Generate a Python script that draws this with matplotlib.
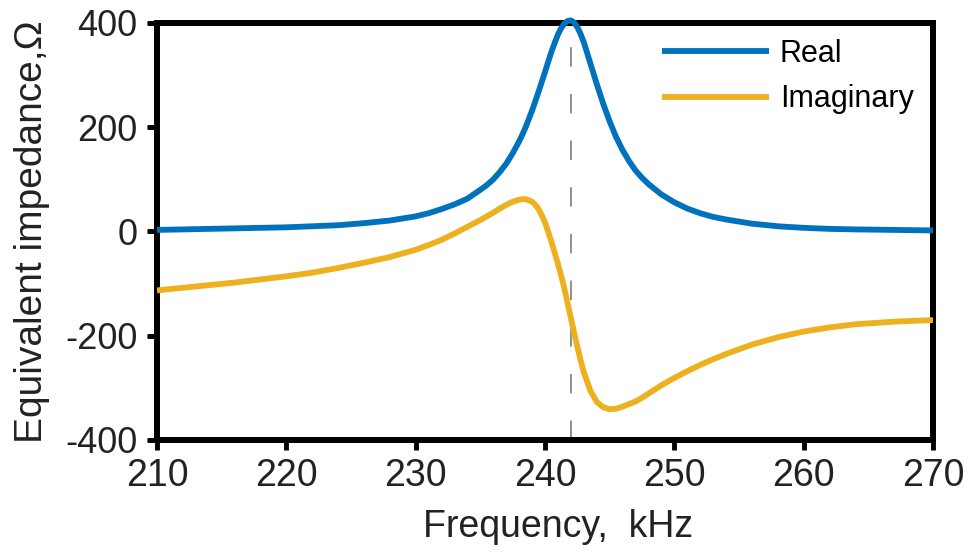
import matplotlib
matplotlib.use('Agg')
import matplotlib.pyplot as plt

# values
freq_khz = [210, 212, 214, 216, 218, 220, 222, 224, 226, 228, 229, 230, 231, 232,
            233, 234, 235, 235.5, 236, 236.5, 237, 237.5, 238, 238.25, 238.5,
            238.75, 239, 239.25, 239.5, 239.75, 240, 240.25, 240.5, 240.75, 241,
            241.25, 241.5, 241.75, 242, 242.25, 242.5, 242.75, 243, 243.5, 244,
            244.5, 245, 245.5, 246, 246.5, 247, 247.5, 248, 249, 250, 251, 252,
            253, 254, 256, 258, 260, 262, 264, 267, 270]
real_ohm = [3, 4, 5, 6, 7, 8, 10, 12, 16, 21, 25, 29, 35, 43,
            52, 63, 80, 89, 100, 114, 130, 150, 173, 186, 200,
            216, 232, 250, 268, 287, 306, 326, 345, 362, 378,
            390, 399, 404, 405, 401, 392, 379, 363, 323, 283,
            245, 211, 181, 156, 135, 117, 103, 91, 71, 56, 44, 35,
            28, 23, 15, 10, 7, 5, 4, 3, 2]
imag_ohm = [-113, -108, -103, -98, -92, -86, -79, -70, -60, -49, -42, -35, -26, -16,
            -4, 9, 22, 29, 36, 44, 51, 57, 61, 62, 62,
            60, 57, 51, 43, 31, 17, -1, -20, -41, -62,
            -85, -110, -138, -166, -194, -221, -247, -270, -305, -327,
            -337, -341, -340, -336, -331, -326, -319, -311, -295, -281, -268, -256,
            -245, -235, -217, -203, -192, -184, -178, -173, -170]
resonance_khz = 242.0

x_ticks = [210, 220, 230, 240, 250, 260, 270]
y_ticks = [-400, -200, 0, 200, 400]

plt.rcParams['font.family'] = ['Liberation Sans', 'DejaVu Sans']
plt.rcParams['axes.unicode_minus'] = False

fig = plt.figure(figsize=(9.77, 5.58), dpi=100)
ax = fig.add_axes([0.1607, 0.2115, 0.7943, 0.7473])

ax.axvline(resonance_khz, color='#8f8f8f', lw=1.4, dashes=(10, 14), zorder=1)
ax.plot(freq_khz, real_ohm, color='#0072BD', lw=4.2, label='Real',
        solid_capstyle='butt', solid_joinstyle='round', zorder=5, clip_on=False)
ax.plot(freq_khz, imag_ohm, color='#EDB120', lw=4.2, label='Imaginary',
        solid_capstyle='butt', solid_joinstyle='round', zorder=4)

ax.set_xlim(210, 270)
ax.set_ylim(-400, 400)
ax.set_xticks(x_ticks)
ax.set_yticks(y_ticks)

for spine in ax.spines.values():
    spine.set_linewidth(4.3)
    spine.set_zorder(3)

ax.tick_params(axis='both', direction='out', length=7, width=3.5, color='black')
ax.tick_params(axis='y', labelsize=26, pad=7)
ax.tick_params(axis='x', labelsize=27, pad=6)
for lbl in ax.get_xticklabels() + ax.get_yticklabels():
    lbl.set_color('#222222')

ax.set_xlabel('Frequency,  kHz', fontsize=27, color='#222222')
ax.set_ylabel('Equivalent impedance,\u03a9', fontsize=28, color='#222222')
ax.xaxis.set_label_coords(0.517, -0.165)
ax.yaxis.set_label_coords(-0.138, 0.5)

ax.legend(loc='upper left', bbox_to_anchor=(662 / 977, 1 - 39 / 558),
          bbox_transform=fig.transFigure, frameon=False, fontsize=22,
          handlelength=3.5, handletextpad=0.36, labelspacing=0.5,
          borderpad=0, borderaxespad=0)

fig.savefig('out.png', dpi=100)
